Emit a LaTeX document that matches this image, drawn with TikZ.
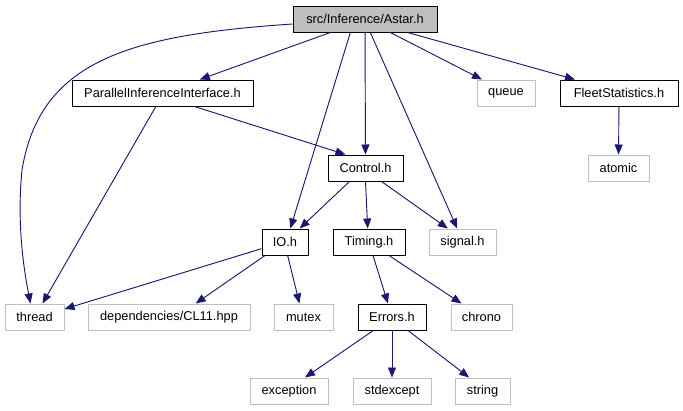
\documentclass[tikz,border=0pt]{standalone}
\usepackage{fontspec}
\setmainfont{Liberation Sans}
\usetikzlibrary{arrows.meta, positioning}

\definecolor{edgeblue}{HTML}{191970}
\definecolor{boxgrey}{HTML}{BFBFBF}

\begin{document}
\begin{tikzpicture}[
      x=0.75pt, y=-0.75pt,
      font=\fontsize{9.6}{11}\selectfont,
      hdr/.style={rectangle, draw=black, line width=0.75pt, inner sep=0pt,
                  minimum height=19.5pt},
      sys/.style={hdr, draw=boxgrey},
      root/.style={hdr, fill=boxgrey},
      line/.style={draw=edgeblue, line width=0.7pt,
                   -{Triangle[length=7.5pt, width=6pt]}}
  ]
      \useasboundingbox (0,0) rectangle (683,411);

      % top level
      \node (astar)   [root, minimum width=108pt]   at (365,19)  {src/Inference/Astar.h};

      \node (pii)     [hdr, minimum width=135.75pt] at (162.5,93) {ParallelInferenceInterface.h};
      \node (queue)   [sys, minimum width=43.5pt]   at (506,93)  {queue};
      \node (fleet)   [hdr, minimum width=88.5pt]   at (619,93)  {FleetStatistics.h};

      \node (control) [hdr, minimum width=56.25pt]  at (365.5,168) {Control.h};
      \node (atomic)  [sys, minimum width=45.75pt]  at (618.5,168) {atomic};

      \node (io)      [hdr, minimum width=34.5pt]   at (285,242) {IO.h};
      \node (timing)  [hdr, minimum width=54pt]     at (369,242) {Timing.h};
      \node (signal)  [sys, minimum width=50.25pt]  at (462.5,242) {signal.h};

      \node (thread)  [sys, minimum width=44.25pt]  at (34.5,317) {thread};
      \node (cli)     [sys, minimum width=121.5pt]  at (169,317) {dependencies/CL11.hpp};
      \node (mutex)   [sys, minimum width=44.25pt]  at (303.5,317) {mutex};
      \node (errors)  [hdr, minimum width=51pt]     at (392,317) {Errors.h};
      \node (chrono)  [sys, minimum width=45.75pt]  at (481.5,317) {chrono};

      \node (except)  [sys, minimum width=58.5pt]   at (289,391) {exception};
      \node (stdexc)  [sys, minimum width=58.5pt]   at (392,391) {stdexcept};
      \node (string)  [sys, minimum width=41.25pt]  at (482.5,391) {string};

      % edges out of Astar.h
      \path [line] ([yshift=-3.75pt]astar.west)
          .. controls (130,35) and (40,60) .. (22,170)
          .. controls (16,230) and (26,280) .. ([xshift=-3pt]thread.north);
      \path [line] ([xshift=-26pt]astar.south) -- ([xshift=28pt]pii.north);
      \path [line] ([xshift=-11pt]astar.south) -- ([xshift=4pt]io.north);
      \path [line] (astar) -- (control);
      \path [line] ([xshift=4pt]astar.south) -- ([xshift=-4pt]signal.north);
      \path [line] ([xshift=19pt]astar.south) -- ([xshift=-18pt]queue.north);
      \path [line] ([xshift=32pt]astar.south) -- ([xshift=-33pt]fleet.north);

      % second level
      \path [line] ([xshift=-5pt]pii.south) -- ([xshift=6pt]thread.north);
      \path [line] ([xshift=24pt]pii.south) -- ([xshift=-15pt]control.north);
      \path [line] (fleet) -- (atomic);

      \path [line] ([xshift=-12pt]control.south) -- ([xshift=11pt]io.north);
      \path [line] (control.south) -- ([xshift=-1pt]timing.north);
      \path [line] ([xshift=12pt]control.south) -- ([xshift=-11pt]signal.north);

      % third level
      \path [line] ([yshift=-5pt]io.west) -- ([yshift=6pt]thread.east);
      \path [line] ([xshift=-15pt]io.south) -- ([xshift=20pt]cli.north);
      \path [line] ([xshift=2pt]io.south) -- ([xshift=-3pt]mutex.north);
      \path [line] ([xshift=3pt]timing.south) -- ([xshift=-3pt]errors.north);
      \path [line] ([xshift=15pt]timing.south) -- ([xshift=-15pt]chrono.north);

      \path [line] ([xshift=-14pt]errors.south) -- ([xshift=12pt]except.north);
      \path [line] (errors) -- (stdexc);
      \path [line] ([xshift=12pt]errors.south) -- ([xshift=-10pt]string.north);
  \end{tikzpicture}
\end{document}
